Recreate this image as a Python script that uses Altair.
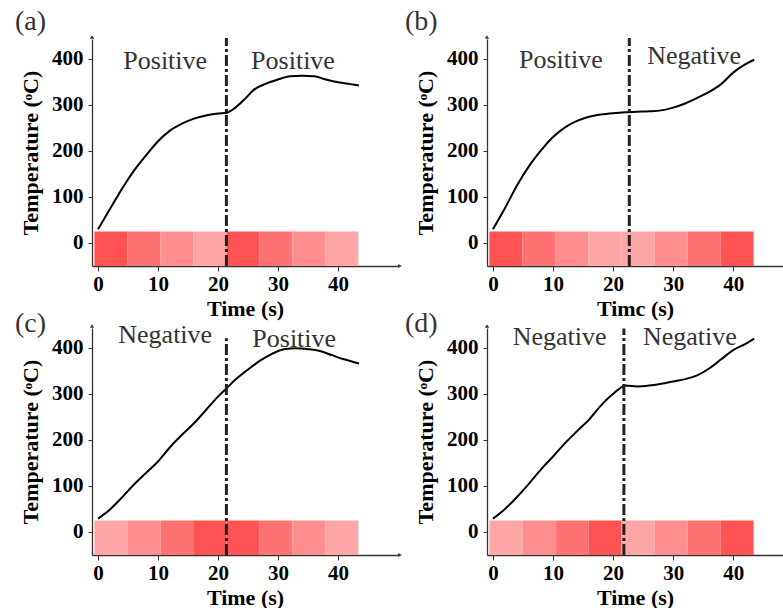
import altair as alt
import pandas as pd

# ---------------- data ----------------
t_a = [0, 1.5, 3, 4.5, 6, 8, 10, 12, 14, 16, 18, 20, 21.5, 23, 24.5, 26, 28, 30, 32, 34, 36, 38, 40, 42, 43.5]
T_a = [30, 63, 96, 128, 157, 190, 221, 244, 259, 270, 277, 281, 283, 295, 313, 333, 346, 355, 362, 363, 362, 355, 349, 345, 342]

t_b = [0, 2, 4, 6, 8, 10, 12, 14, 16, 18, 20, 22, 24, 26, 28, 30, 32, 34, 36, 38, 40, 42, 43.5]
T_b = [30, 76, 125, 167, 201, 230, 251, 265, 274, 279, 282, 284, 285, 286, 288, 294, 303, 315, 328, 345, 370, 388, 398]

t_c = [0, 2, 4, 6, 8, 10, 12, 14, 16, 18, 20, 21.5, 23, 25, 27, 29, 31, 33, 35, 37, 39, 41, 43.5]
T_c = [29, 49, 75, 103, 128, 153, 184, 211, 236, 265, 294, 313, 332, 353, 372, 387, 397, 399, 397, 393, 384, 375, 366]

t_d = [0, 2, 4, 6, 8, 10, 12, 14, 16, 18, 20, 21.5, 22, 24, 26, 28, 30, 32, 34, 36, 38, 40, 42, 43.5]
T_d = [29, 50, 76, 105, 136, 164, 193, 219, 244, 275, 300, 315, 318, 316, 318, 322, 327, 332, 340, 355, 375, 395, 408, 420]

cell_edges = [-0.6, 4.9, 10.4, 15.9, 21.4, 26.9, 32.4, 37.9, 43.4]
heat_bottom = -50
heat_top = 25
levels_a = [4, 3, 2, 1, 4, 3, 2, 1]
levels_b = [4, 3, 2, 1, 1, 2, 3, 4]
levels_c = [1, 2, 3, 4, 4, 3, 2, 1]
levels_d = [1, 2, 3, 4, 1, 2, 3, 4]
heat_levels = [1, 2, 3, 4]
heat_colors = ["#FFA7A7", "#FF8E8E", "#FF7272", "#FF5353"]

split_t = [21.4, 22.7, 21.4, 21.8]
split_top = [445, 445, 421, 442]

left_words = ["Positive", "Positive", "Negative", "Negative"]
right_words = ["Positive", "Negative", "Positive", "Negative"]
left_word_t = [11.2, 11.3, 11.2, 11.1]
right_word_t = [32.5, 33.5, 32.7, 32.8]
left_word_T = [377, 381, 411, 405]
right_word_T = [377, 388, 402, 405]

x_titles = ["Time (s)", "Timc (s)", "Time (s)", "Time (s)"]
y_title = "Temperature (ᵒC)"
tags = ["(a)", "(b)", "(c)", "(d)"]
x_max = [50, 48.3, 50, 48.3]
y_domain = [-50, 443]
x_tick_values = [0, 5, 10, 15, 20, 25, 30, 35, 40, 45]
y_tick_values = [0, 50, 100, 150, 200, 250, 300, 350, 400]

series_t = [t_a, t_b, t_c, t_d]
series_T = [T_a, T_b, T_c, T_d]
series_lv = [levels_a, levels_b, levels_c, levels_d]

SERIF = "Liberation Serif"
W_L, W_R, H = 306, 296, 227


def panel(i):
    w = W_L if i % 2 == 0 else W_R
    xs = alt.Scale(domain=[-1, x_max[i]], nice=False, zero=False)
    ys = alt.Scale(domain=y_domain, nice=False, zero=False)
    xax = alt.Axis(values=x_tick_values,
                   labelExpr="datum.value % 10 === 0 ? datum.label : ''",
                   title=x_titles[i], grid=False, tickSize=5,
                   labelFont=SERIF, labelFontWeight="bold", labelFontSize=21,
                   labelColor="black", titleFont=SERIF, titleFontWeight="bold",
                   titleFontSize=22, titleColor="black", labelPadding=2,
                   titlePadding=4, domainColor="#333", tickColor="#333",
                   domainWidth=1.3, labelFlush=False)
    yax = alt.Axis(values=y_tick_values,
                   labelExpr="datum.value % 100 === 0 ? datum.label : ''",
                   title=y_title, grid=False, tickSize=4,
                   labelFont=SERIF, labelFontWeight="bold", labelFontSize=21,
                   labelColor="black", titleFont=SERIF, titleFontWeight="bold",
                   titleFontSize=22, titleColor="black", labelPadding=5,
                   titlePadding=9, domainColor="#333", tickColor="#333",
                   domainWidth=1.3)

    cells = pd.DataFrame({
        "x0": cell_edges[:-1], "x1": cell_edges[1:],
        "lvl": series_lv[i], "y0": [heat_bottom] * 8, "y1": [heat_top] * 8,
    })
    heat = alt.Chart(cells).mark_rect().encode(
        x=alt.X("x0:Q", scale=xs, axis=xax),
        x2="x1:Q",
        y=alt.Y("y0:Q", scale=ys, axis=yax),
        y2="y1:Q",
        color=alt.Color("lvl:O", scale=alt.Scale(domain=heat_levels, range=heat_colors), legend=None),
    )

    curve = alt.Chart(pd.DataFrame({"t": series_t[i], "T": series_T[i]})).mark_line(
        color="black", strokeWidth=2, interpolate="monotone"
    ).encode(x=alt.X("t:Q", scale=xs), y=alt.Y("T:Q", scale=ys))

    split = alt.Chart(pd.DataFrame({"t": [split_t[i]], "lo": [y_domain[0]], "hi": [split_top[i]]})).mark_rule(
        color="#222", strokeWidth=3, strokeDash=[11, 3, 3, 3]
    ).encode(x=alt.X("t:Q", scale=xs), y=alt.Y("lo:Q", scale=ys), y2="hi:Q")

    words = pd.DataFrame({
        "t": [left_word_t[i], right_word_t[i]],
        "T": [left_word_T[i], right_word_T[i]],
        "w": [left_words[i], right_words[i]],
    })
    text = alt.Chart(words).mark_text(
        font=SERIF, fontSize=26, color="#333", baseline="alphabetic", align="center"
    ).encode(x=alt.X("t:Q", scale=xs), y=alt.Y("T:Q", scale=ys), text="w:N")

    tag = alt.Chart(pd.DataFrame({"s": [tags[i]]})).mark_text(
        font=SERIF, fontSize=28, color="#333", align="left", baseline="middle"
    ).encode(x=alt.value(-77 if i % 2 == 0 else -82), y=alt.value(-17 if i < 2 else -4), text="s:N")

    arrow_up = alt.Chart(pd.DataFrame({"s": [tags[i]]})).mark_point(
        shape="triangle-up", filled=True, size=18, color="#333", opacity=1
    ).encode(x=alt.value(0), y=alt.value(-2))

    layers = [heat, curve, split, text, tag, arrow_up]
    if i % 2 == 0:
        arrow_r = alt.Chart(pd.DataFrame({"s": [tags[i]]})).mark_point(
            shape="triangle-right", filled=True, size=18, color="#333", opacity=1
        ).encode(x=alt.value(w + 2), y=alt.value(H))
        layers.append(arrow_r)
    return alt.layer(*layers).properties(width=w, height=H)


chart = alt.concat(*[panel(i) for i in range(4)], columns=2, spacing={"row": 62, "column": 89}).properties(
    bounds="flush",
    padding={"left": 15, "top": 8, "right": 0, "bottom": 0},
).configure_view(stroke=None)

chart.save("out.html", embed_options={"renderer": "svg", "actions": False})
